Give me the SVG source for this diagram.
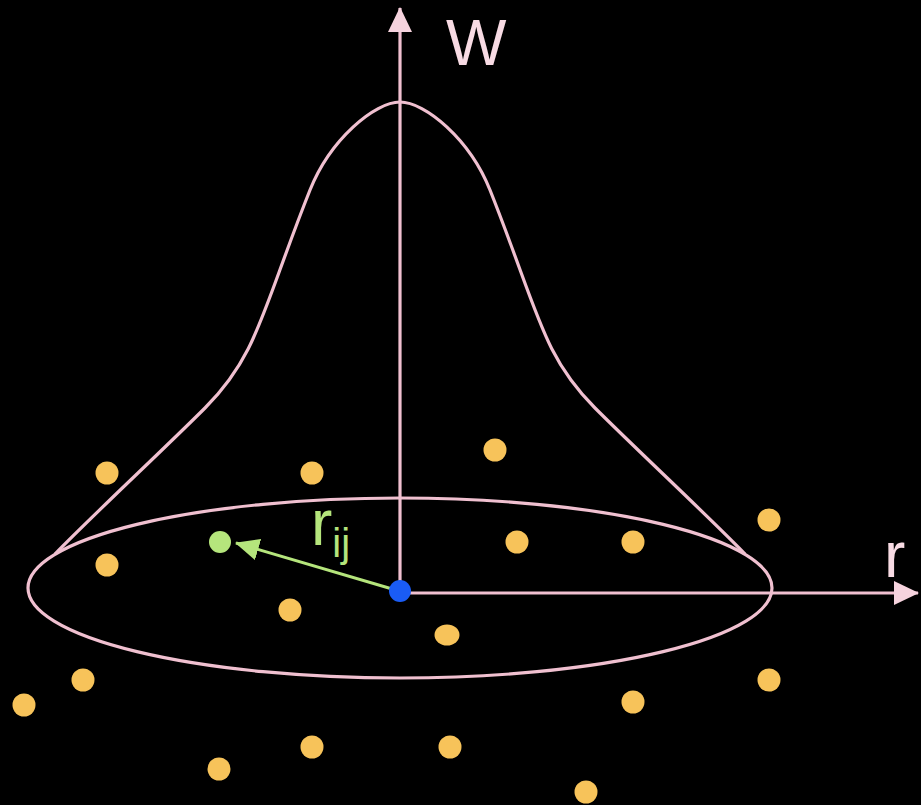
<svg xmlns="http://www.w3.org/2000/svg" width="921" height="805" viewBox="0 0 921 805">
  <style>
    .pink { fill: none; stroke: #f0c0d0; stroke-width: 3.2; }
    .dot { fill: #f7c35a; }
    .lbl { font-family: "Liberation Sans", Arial, sans-serif; }
  </style>
  <defs>
    <marker id="pinkHead" viewBox="0 0 25 24" refX="24" refY="12" markerWidth="25" markerHeight="24" markerUnits="userSpaceOnUse" orient="auto">
      <path d="M0,0 L25,12 L0,24 z" fill="#f6d3de"/>
    </marker>
    <marker id="greenHead" viewBox="0 0 24 22" refX="23" refY="11" markerWidth="24" markerHeight="22" markerUnits="userSpaceOnUse" orient="auto">
      <path d="M0,0 L24,11 L0,22 z" fill="#b5e57c"/>
    </marker>
  </defs>
  <rect width="921" height="805" fill="#000"/>

  <g id="kernel-ellipse">
    <ellipse class="pink" cx="400" cy="588" rx="372" ry="90"/>
  </g>

  <g id="kernel-curve">
    <path class="pink" d="M55,554 C95,513 162.6,450.4 205,408 C258,355 261.9,310.9 310,190 C330.4,138.9 375,102 400,102 C425,102 469.6,138.9 490,190 C538.1,310.9 542,355 595,408 C637.4,450.4 705,513 745,554"/>
  </g>

  <g id="connectors">
    <line id="axis-w" class="pink" x1="400" y1="591" x2="400" y2="8" marker-end="url(#pinkHead)"/>
    <line id="axis-r" class="pink" x1="400" y1="593" x2="918" y2="593" marker-end="url(#pinkHead)"/>
    <line id="vector-rij" x1="399" y1="591" x2="236" y2="543" stroke="#b5e57c" stroke-width="3" marker-end="url(#greenHead)"/>
  </g>

  <g id="particles">
    <circle class="dot" cx="107" cy="473" r="11.5"/>
    <circle class="dot" cx="312" cy="473" r="11.5"/>
    <circle class="dot" cx="495" cy="450" r="11.5"/>
    <circle class="dot" cx="769" cy="520" r="11.5"/>
    <circle class="dot" cx="107" cy="565" r="11.5"/>
    <circle class="dot" cx="517" cy="542" r="11.5"/>
    <circle class="dot" cx="633" cy="542" r="11.5"/>
    <circle class="dot" cx="290" cy="610" r="11.5"/>
    <ellipse class="dot" cx="447" cy="635" rx="12.5" ry="10.5"/>
    <circle class="dot" cx="83" cy="680" r="11.5"/>
    <circle class="dot" cx="24" cy="705" r="11.5"/>
    <circle class="dot" cx="769" cy="680" r="11.5"/>
    <circle class="dot" cx="633" cy="702" r="11.5"/>
    <circle class="dot" cx="312" cy="747" r="11.5"/>
    <circle class="dot" cx="450" cy="747" r="11.5"/>
    <circle class="dot" cx="219" cy="769" r="11.5"/>
    <circle class="dot" cx="586" cy="792" r="11.5"/>
  </g>

  <g id="particle-j">
    <circle cx="220" cy="542" r="11" fill="#b5e57c"/>
  </g>
  <g id="particle-i">
    <circle cx="400" cy="591" r="11" fill="#1a5cf5"/>
  </g>

  <g id="labels" class="lbl">
    <text x="446" y="65" font-size="64" fill="#f8dbe4">W</text>
    <text x="884" y="577" font-size="64" fill="#f8dbe4">r</text>
    <text x="311" y="545" font-size="64" fill="#b5e57c">r<tspan font-size="40" dy="12">ij</tspan></text>
  </g>
</svg>
